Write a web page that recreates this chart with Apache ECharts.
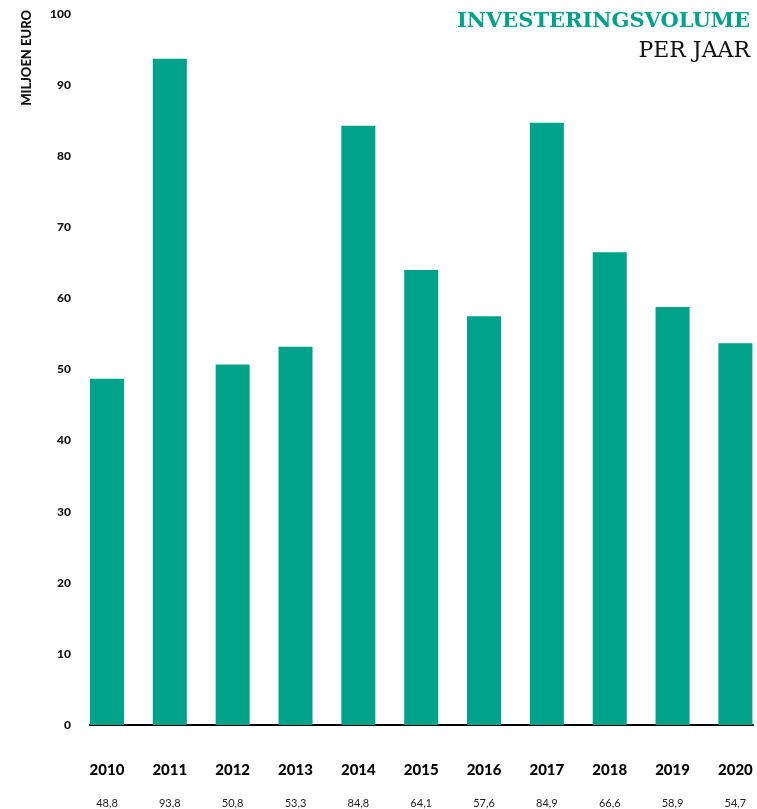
<!DOCTYPE html>
<html>
<head>
<meta charset="utf-8">
<script src="https://cdn.jsdelivr.net/npm/echarts@6/dist/echarts.min.js"></script>
<style>
  html, body { margin: 0; padding: 0; background: #fff; }
  #chart { width: 757px; height: 809px; }
</style>
</head>
<body>
<div id="chart"></div>
<script>
// jaren en investeringsvolume (miljoen euro)
var years = [2010, 2011, 2012, 2013, 2014, 2015, 2016, 2017, 2018, 2019, 2020];
var volumes = [48.7, 93.7, 50.7, 53.2, 84.3, 64.0, 57.5, 84.7, 66.5, 58.8, 53.7];
var volumeLabels = ['48,8', '93,8', '50,8', '53,3', '84,8', '64,1', '57,6', '84,9', '66,6', '58,9', '54,7'];

var teal = '#00a389';
var seriesData = [];
for (var i = 0; i < years.length; i++) {
  seriesData.push([years[i], volumes[i]]);
}

var mychart = echarts.init(document.getElementById('chart'));
var option = {
  animation: false,
  grid: {
    left: 90,
    right: 4,
    top: 14,
    bottom: 84,
    containLabel: false
  },
  title: [{
    text: 'INVESTERINGSVOLUME',
    right: 2,
    top: 6,
    textStyle: {
      fontFamily: 'DejaVu Serif',
      fontWeight: 'bold',
      fontSize: 21,
      color: teal
    }
  }, {
    text: 'PER JAAR',
    right: 2,
    top: 35,
    textStyle: {
      fontFamily: 'DejaVu Serif',
      fontWeight: 'normal',
      fontSize: 22,
      color: '#111'
    }
  }],
  graphic: [{
    type: 'text',
    left: 20,
    top: 10,
    rotation: Math.PI / 2,
    style: {
      text: 'MILJOEN EURO',
      fontFamily: 'Lato',
      fontWeight: 900,
      fontSize: 13,
      fill: '#111'
    }
  }],
  xAxis: {
    type: 'value',
    min: 2009.73,
    max: 2020.28,
    splitLine: { show: false },
    axisTick: { show: false },
    axisLine: {
      show: true,
      lineStyle: { color: '#000', width: 2 }
    },
    axisLabel: {
      show: true,
      customValues: years,
      margin: 29,
      formatter: function (v) {
        var idx = years.indexOf(v);
        return '{y|' + v + '}\n{v|' + (idx >= 0 ? volumeLabels[idx] : '') + '}';
      },
      rich: {
        y: {
          fontFamily: 'Lato',
          fontWeight: 900,
          fontSize: 15,
          color: '#000',
          lineHeight: 33
        },
        v: {
          fontFamily: 'Lato',
          fontSize: 11,
          color: '#222',
          lineHeight: 33
        }
      }
    }
  },
  yAxis: {
    type: 'value',
    min: 0,
    max: 100,
    interval: 10,
    axisLine: { show: false },
    axisTick: { show: false },
    splitLine: { show: false },
    axisLabel: {
      margin: 19,
      fontFamily: 'Lato',
      fontWeight: 900,
      fontSize: 12,
      color: '#111'
    }
  },
  series: [{
    name: 'Investeringsvolume',
    type: 'bar',
    barWidth: 34,
    clip: false,
    itemStyle: { color: teal },
    data: seriesData
  }]
};
mychart.setOption(option);
</script>
</body>
</html>
